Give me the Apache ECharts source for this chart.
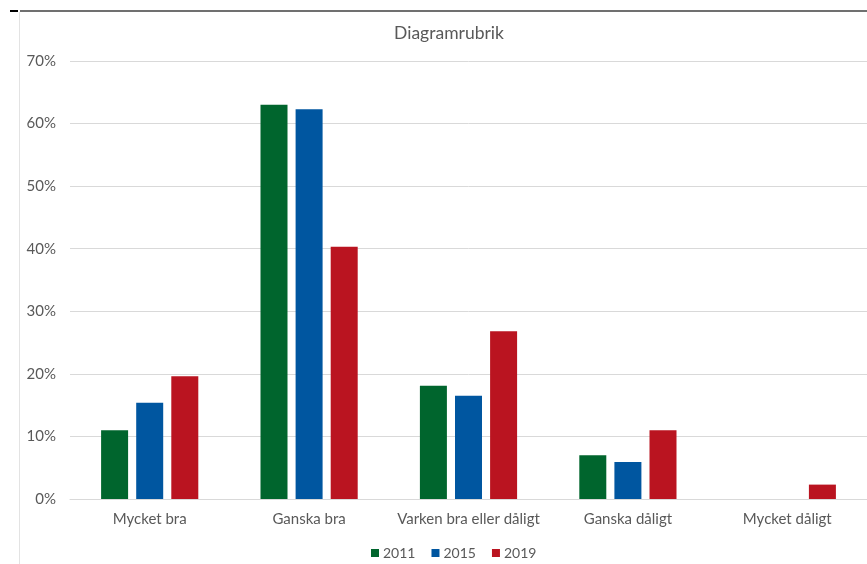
<!DOCTYPE html>
<html>
<head>
<meta charset="utf-8">
<script src="https://cdn.jsdelivr.net/npm/echarts@6/dist/echarts.min.js"></script>
<style>
  html, body { margin: 0; padding: 0; background: #ffffff; }
  #chart { width: 867px; height: 564px; }
</style>
</head>
<body>
<div id="chart"></div>
<script>
// Survey answers by year, share of respondents (%)
const categories = ['Mycket bra', 'Ganska bra', 'Varken bra eller dåligt', 'Ganska dåligt', 'Mycket dåligt'];
const years = ['2011', '2015', '2019'];
const values2011 = [11.0, 63.0, 18.1, 7.0, 0];
const values2015 = [15.4, 62.3, 16.5, 5.9, 0];
const values2019 = [19.6, 40.3, 26.8, 11.0, 2.3];
const yearColors = ['#00652d', '#0056a0', '#ba1420'];
const yTicks = { min: 0, max: 70, interval: 10 };

const font = 'Lato, "Open Sans", sans-serif';
const textColor = '#595959';

const seriesData = [values2011, values2015, values2019];

const chart = echarts.init(document.getElementById('chart'), null, { renderer: 'canvas' });
chart.setOption({
  animation: false,
  backgroundColor: '#ffffff',
  title: {
    text: 'Diagramrubrik',
    left: 444,
    top: 19,
    textAlign: 'center',
    textStyle: { fontFamily: font, fontSize: 17.5, fontWeight: 'normal', color: textColor }
  },
  legend: {
    data: years,
    top: 541,
    left: 366,
    itemWidth: 8,
    itemHeight: 8,
    itemGap: 16,
    icon: 'rect',
    textStyle: { fontFamily: font, fontSize: 14, color: textColor, padding: [0, 0, 0, -1] }
  },
  grid: { left: 70, right: 0, top: 61, bottom: 65, containLabel: false },
  xAxis: {
    type: 'category',
    data: categories,
    axisLine: { show: true, lineStyle: { color: '#d9d9d9' } },
    axisTick: { show: false },
    axisLabel: { margin: 13, interval: 0, fontFamily: font, fontSize: 15, color: textColor }
  },
  yAxis: {
    type: 'value',
    min: yTicks.min,
    max: yTicks.max,
    interval: yTicks.interval,
    axisLine: { show: false },
    axisTick: { show: false },
    splitLine: { lineStyle: { color: '#d9d9d9', width: 1 } },
    axisLabel: { margin: 14, fontFamily: font, fontSize: 15, color: textColor, formatter: '{value}%' }
  },
  series: years.map((y, i) => ({
    name: y,
    type: 'bar',
    data: seriesData[i],
    barWidth: 27,
    barGap: '30%',
    itemStyle: { color: yearColors[i] }
  })),
  graphic: [
    { type: 'line', shape: { x1: 20, y1: 11, x2: 867, y2: 11 }, style: { stroke: '#404040', lineWidth: 1.5 }, silent: true },
    { type: 'line', shape: { x1: 10, y1: 11, x2: 18, y2: 11 }, style: { stroke: '#000000', lineWidth: 2 }, silent: true },
    { type: 'line', shape: { x1: 19.5, y1: 12, x2: 19.5, y2: 564 }, style: { stroke: '#e3e3e3', lineWidth: 1 }, silent: true }
  ]
});
</script>
</body>
</html>
